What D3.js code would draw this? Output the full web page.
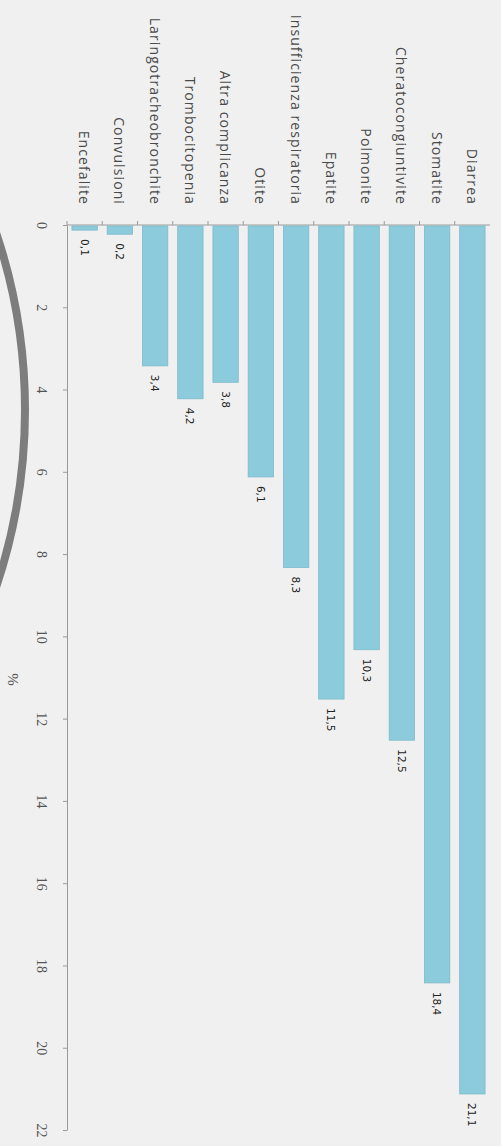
<!DOCTYPE html>
<html>
<head>
<meta charset="utf-8">
<script src="https://cdn.jsdelivr.net/npm/d3@7"></script>
<style>
  html, body { margin: 0; padding: 0; background: #f0f0f0; }
  svg { display: block; }
</style>
</head>
<body>
<svg id="chart" width="501" height="1146"></svg>
<script>
// categories left to right (the chart is drawn turned a quarter turn)
const categories = ["Encefalite", "Convulsioni", "Laringotracheobronchite", "Trombocitopenia",
  "Altra complicanza", "Otite", "Insufficienza respiratoria", "Epatite", "Polmonite",
  "Cheratocongiuntivite", "Stomatite", "Diarrea"]
const values = [0.1, 0.2, 3.4, 4.2, 3.8, 6.1, 8.3, 11.5, 10.3, 12.5, 18.4, 21.1]
const valueTicks = [0, 2, 4, 6, 8, 10, 12, 14, 16, 18, 20, 22]
const axisTitle = "%"

const W = 501, H = 1146
const mLeft = 67, mRight = 490, mTop = 225, mBottom = 1130

const svg = d3.select("#chart")

svg.append("rect").attr("width", W).attr("height", H).attr("fill", "#f0f0f0")

// grey arc at left edge
svg.append("circle")
  .attr("cx", -532).attr("cy", 410).attr("r", 557)
  .attr("fill", "none").attr("stroke", "#7d7d7d").attr("stroke-width", 8)

const x = d3.scaleBand()
  .domain(categories)
  .range([mLeft, mRight])
  .paddingInner(0.28)
  .paddingOuter(0.14)

const y = d3.scaleLinear()
  .domain([0, 22])
  .range([mTop, mBottom])

// value axis (vertical, on the left)
const yAxis = svg.append("g")
  .attr("transform", "translate(" + mLeft + ",0)")
  .call(d3.axisLeft(y).tickValues(valueTicks).tickSize(4).tickSizeOuter(0))
yAxis.select(".domain").attr("stroke", "#9a9a9a")
yAxis.selectAll(".tick line").attr("stroke", "#9a9a9a")
yAxis.selectAll(".tick text")
  .attr("x", null).attr("dy", null)
  .attr("transform", "translate(-26,0) rotate(90)")
  .attr("text-anchor", "middle")
  .attr("dominant-baseline", "central")
  .attr("font-family", "Liberation Serif, serif")
  .attr("font-size", 14)
  .attr("fill", "#555")

// axis title
svg.append("text")
  .attr("transform", "translate(13," + ((mTop + mBottom) / 2 + 2) + ") rotate(90)")
  .attr("text-anchor", "middle")
  .attr("dominant-baseline", "central")
  .attr("font-family", "Liberation Serif, serif")
  .attr("font-size", 15)
  .attr("fill", "#555")
  .text(axisTitle)

// category axis (horizontal line at zero)
const xAxis = svg.append("g")
  .attr("transform", "translate(0," + mTop + ")")
xAxis.append("line")
  .attr("x1", mLeft).attr("x2", mRight)
  .attr("stroke", "#9a9a9a")
xAxis.selectAll("line.sep")
  .data(categories)
  .enter().append("line")
  .attr("class", "sep")
  .attr("x1", d => x(d) - x.step() * x.paddingInner() / 2)
  .attr("x2", d => x(d) - x.step() * x.paddingInner() / 2)
  .attr("y1", 0).attr("y2", -4)
  .attr("stroke", "#9a9a9a")

// category labels
svg.append("g").selectAll("text")
  .data(categories)
  .enter().append("text")
  .attr("transform", d => "translate(" + (x(d) + x.bandwidth() / 2) + "," + (mTop - 20) + ") rotate(90)")
  .attr("text-anchor", "end")
  .attr("dominant-baseline", "central")
  .attr("font-family", "Open Sans, sans-serif")
  .attr("font-size", 14)
  .attr("letter-spacing", 1.1)
  .attr("fill", "#4a4a4a")
  .text(d => d)

// bars
svg.append("g").selectAll("rect")
  .data(values)
  .enter().append("rect")
  .attr("x", (d, i) => x(categories[i]))
  .attr("width", x.bandwidth())
  .attr("y", y(0) + 1)
  .attr("height", d => Math.max(1.5, y(d) - y(0)))
  .attr("fill", "#8ccbdc")
  .attr("stroke", "#7cbacb")
  .attr("stroke-width", 0.8)

// value labels
const fmt = v => String(v).replace(".", ",")
svg.append("g").selectAll("text")
  .data(values)
  .enter().append("text")
  .attr("transform", (d, i) => "translate(" + (x(categories[i]) + x.bandwidth() / 2) + "," + (y(d) + 10) + ") rotate(90)")
  .attr("text-anchor", "start")
  .attr("dominant-baseline", "central")
  .attr("font-family", "DejaVu Sans, sans-serif")
  .attr("font-size", 10.5)
  .attr("fill", "#222")
  .text(d => fmt(d))
</script>
</body>
</html>
